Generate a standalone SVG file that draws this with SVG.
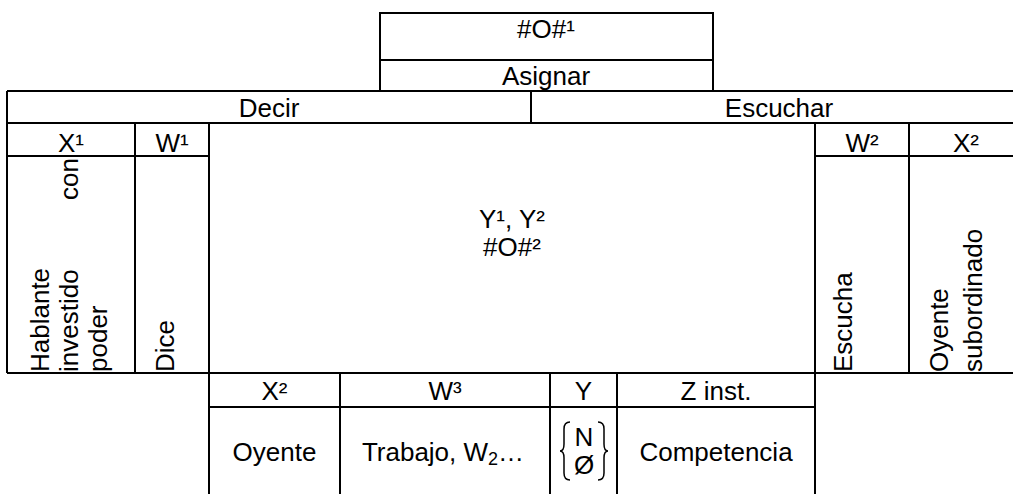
<svg xmlns="http://www.w3.org/2000/svg" width="1013" height="494" viewBox="0 0 1013 494">
<style>
text{font-family:"Liberation Sans",Arial,sans-serif;font-size:26px;fill:#000}
.c{text-anchor:middle}
.e{text-anchor:end}
.ln{stroke:#000;stroke-width:2;fill:none}
.brace{stroke:#000;stroke-width:1.5;fill:none}
</style>
<g id="connectors">
<rect class="ln" x="380" y="13" width="333" height="78"/>
<line class="ln" x1="380" y1="60" x2="713" y2="60"/>
<line class="ln" x1="7" y1="91" x2="1013" y2="91"/>
<line class="ln" x1="531" y1="91" x2="531" y2="123"/>
<line class="ln" x1="7" y1="123" x2="1013" y2="123"/>
<line class="ln" x1="7" y1="91" x2="7" y2="373"/>
<line class="ln" x1="135" y1="123" x2="135" y2="373"/>
<line class="ln" x1="209" y1="123" x2="209" y2="494"/>
<line class="ln" x1="815" y1="123" x2="815" y2="494"/>
<line class="ln" x1="909" y1="123" x2="909" y2="373"/>
<line class="ln" x1="7" y1="156" x2="209" y2="156"/>
<line class="ln" x1="815" y1="156" x2="1013" y2="156"/>
<line class="ln" x1="7" y1="373" x2="1013" y2="373"/>
<line class="ln" x1="209" y1="407" x2="815" y2="407"/>
<line class="ln" x1="340" y1="373" x2="340" y2="494"/>
<line class="ln" x1="550" y1="373" x2="550" y2="494"/>
<line class="ln" x1="617" y1="373" x2="617" y2="494"/>
</g>
<g id="n-o1"><text class="c" x="546" y="38">#O#¹</text></g>
<g id="n-asignar"><text class="c" x="546" y="85">Asignar</text></g>
<g id="n-decir"><text class="c" x="269" y="117">Decir</text></g>
<g id="n-escuchar"><text class="c" x="779" y="117">Escuchar</text></g>
<g id="n-x1"><text class="c" x="71" y="152">X¹</text></g>
<g id="n-w1"><text class="c" x="172" y="152">W¹</text></g>
<g id="n-w2"><text class="c" x="862" y="152">W²</text></g>
<g id="n-x2"><text class="c" x="966" y="152">X²</text></g>
<g id="n-hablante">
<text transform="translate(49,372) rotate(-90)">Hablante</text>
<text transform="translate(78,372) rotate(-90)">investido</text>
<text class="e" transform="translate(78,158) rotate(-90)">con</text>
<text transform="translate(107,372) rotate(-90)">poder</text>
</g>
<g id="n-dice"><text transform="translate(174,372) rotate(-90)">Dice</text></g>
<g id="n-center">
<text class="c" x="512" y="228">Y¹, Y²</text>
<text class="c" x="512" y="256">#O#²</text>
</g>
<g id="n-escucha"><text transform="translate(852,372) rotate(-90)">Escucha</text></g>
<g id="n-oyente-sub">
<text transform="translate(948,372) rotate(-90)">Oyente</text>
<text transform="translate(982,372) rotate(-90)">subordinado</text>
</g>
<g id="n-bx2"><text class="c" x="274.5" y="400">X²</text></g>
<g id="n-bw3"><text class="c" x="445" y="400">W³</text></g>
<g id="n-by"><text class="c" x="583.5" y="400">Y</text></g>
<g id="n-bz"><text class="c" x="716" y="400">Z inst.</text></g>
<g id="n-oyente"><text class="c" x="274.5" y="461">Oyente</text></g>
<g id="n-trabajo"><text class="c" x="443" y="461">Trabajo, W<tspan font-size="18" dy="4">2</tspan><tspan dy="-4">…</tspan></text></g>
<g id="n-nset">
<path class="brace" d="M570 422 Q564 422 564 429 L564 444 Q564 451 560 451 Q564 451 564 458 L564 473 Q564 480 570 480"/>
<path class="brace" d="M598 422 Q604 422 604 429 L604 444 Q604 451 608 451 Q604 451 604 458 L604 473 Q604 480 598 480"/>
<text class="c" x="584" y="446">N</text>
<text class="c" x="584" y="474">Ø</text>
</g>
<g id="n-competencia"><text class="c" x="716" y="461">Competencia</text></g>
</svg>
